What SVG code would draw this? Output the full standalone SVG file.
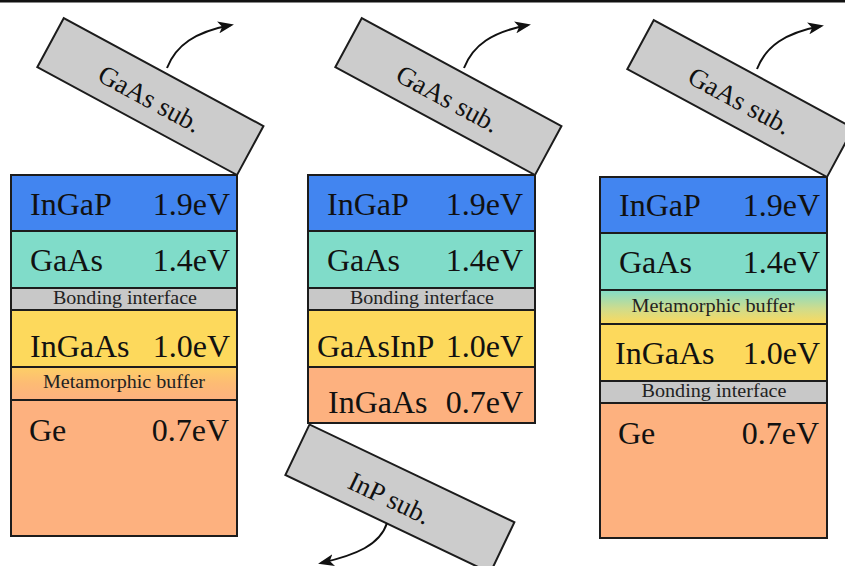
<svg xmlns="http://www.w3.org/2000/svg" width="845" height="566" viewBox="0 0 845 566">
  <defs>
    <style>
      .layer { stroke: #1c1c1c; stroke-width: 2; }
      .ingap { fill: #4285f0; }
      .gaas { fill: #80dcc9; }
      .bond { fill: #c8c8c8; }
      .yellow { fill: #fdd95c; }
      .orange { fill: #fdb17f; }
      .sub { fill: #cccccc; stroke: #1c1c1c; stroke-width: 2; }
      .big { font-family: "Liberation Serif", "Times New Roman", serif; font-size: 32px; fill: #111; }
      .small { font-family: "Liberation Serif", "Times New Roman", serif; font-size: 18.5px; fill: #222; text-anchor: middle; }
      .sublabel { font-family: "Liberation Serif", "Times New Roman", serif; font-size: 27px; fill: #111; text-anchor: middle; }
      .end { text-anchor: end; }
      .arrow { fill: none; stroke: #111; stroke-width: 2; marker-end: url(#head); }
    </style>
    <marker id="head" markerUnits="userSpaceOnUse" markerWidth="16" markerHeight="12" refX="13" refY="6" orient="auto">
      <path d="M0,0 L16,6 L0,12 L4,6 Z" fill="#111"/>
    </marker>
    <linearGradient id="metaOrange" x1="0" y1="0" x2="0" y2="1">
      <stop offset="0" stop-color="#fdcf66"/>
      <stop offset="0.5" stop-color="#fdbb74"/>
      <stop offset="1" stop-color="#fdb17f"/>
    </linearGradient>
    <linearGradient id="metaTeal" x1="0" y1="0" x2="0" y2="1">
      <stop offset="0" stop-color="#80dcc9"/>
      <stop offset="0.55" stop-color="#cfdc8c"/>
      <stop offset="1" stop-color="#fdd95c"/>
    </linearGradient>
  </defs>

  <rect x="0" y="0" width="845" height="2.5" fill="#111"/>

  <!-- substrates -->
  <g id="sub-left">
    <g transform="translate(237,175) rotate(28.4)">
      <rect class="sub" x="-227" y="-55.6" width="227" height="55.6"/>
      <text class="sublabel" x="-113" y="-16.5">GaAs sub.</text>
    </g>
  </g>
  <g id="sub-middle">
    <g transform="translate(535,175) rotate(28.4)">
      <rect class="sub" x="-227" y="-55.6" width="227" height="55.6"/>
      <text class="sublabel" x="-113" y="-16.5">GaAs sub.</text>
    </g>
  </g>
  <g id="sub-right">
    <g transform="translate(827,177) rotate(28.4)">
      <rect class="sub" x="-227" y="-55.6" width="227" height="55.6"/>
      <text class="sublabel" x="-113" y="-16.5">GaAs sub.</text>
    </g>
  </g>
  <g id="sub-inp">
    <g transform="translate(309.5,424.5) rotate(25.5)">
      <rect class="sub" x="0" y="0" width="227" height="56"/>
      <text class="sublabel" x="104" y="41">InP sub.</text>
    </g>
  </g>

  <!-- left stack: lattice-matched top cells on metamorphic Ge -->
  <g id="stack-left">
    <rect class="layer ingap" x="11" y="175" width="226" height="56"/>
    <rect class="layer gaas" x="11" y="231" width="226" height="57"/>
    <rect class="layer bond" x="11" y="288" width="226" height="22"/>
    <rect class="layer yellow" x="11" y="310" width="226" height="57"/>
    <rect class="layer" fill="url(#metaOrange)" x="11" y="367" width="226" height="33"/>
    <rect class="layer orange" x="11" y="400" width="226" height="136"/>
    <text class="big" x="30" y="215">InGaP</text>
    <text class="big end" x="230" y="215">1.9eV</text>
    <text class="big" x="30" y="271">GaAs</text>
    <text class="big end" x="230" y="271">1.4eV</text>
    <text class="small" x="125" y="304" textLength="144" lengthAdjust="spacingAndGlyphs">Bonding interface</text>
    <text class="big" x="30" y="357">InGaAs</text>
    <text class="big end" x="230" y="357">1.0eV</text>
    <text class="small" x="124" y="388" textLength="162" lengthAdjust="spacingAndGlyphs">Metamorphic buffer</text>
    <text class="big" x="29" y="441">Ge</text>
    <text class="big end" x="229" y="441">0.7eV</text>
  </g>

  <!-- middle stack: GaAs top pair bonded to InP-based bottom pair -->
  <g id="stack-middle">
    <rect class="layer ingap" x="308" y="175" width="227" height="56"/>
    <rect class="layer gaas" x="308" y="231" width="227" height="57"/>
    <rect class="layer bond" x="308" y="288" width="227" height="22"/>
    <rect class="layer yellow" x="308" y="310" width="227" height="57"/>
    <rect class="layer orange" x="308" y="367" width="227" height="56"/>
    <text class="big" x="327" y="215">InGaP</text>
    <text class="big end" x="523" y="215">1.9eV</text>
    <text class="big" x="327" y="271">GaAs</text>
    <text class="big end" x="523" y="271">1.4eV</text>
    <text class="small" x="422" y="304" textLength="144" lengthAdjust="spacingAndGlyphs">Bonding interface</text>
    <text class="big" x="317" y="357">GaAsInP</text>
    <text class="big end" x="523" y="357">1.0eV</text>
    <text class="big" x="328" y="413">InGaAs</text>
    <text class="big end" x="523" y="413">0.7eV</text>
  </g>

  <!-- right stack: inverted metamorphic top cells bonded to Ge -->
  <g id="stack-right">
    <rect class="layer ingap" x="600" y="177" width="227" height="56"/>
    <rect class="layer gaas" x="600" y="233" width="227" height="57"/>
    <rect class="layer" fill="url(#metaTeal)" x="600" y="290" width="227" height="34"/>
    <rect class="layer yellow" x="600" y="324" width="227" height="57"/>
    <rect class="layer bond" x="600" y="381" width="227" height="22"/>
    <rect class="layer orange" x="600" y="403" width="227" height="135"/>
    <text class="big" x="619" y="216">InGaP</text>
    <text class="big end" x="820" y="216">1.9eV</text>
    <text class="big" x="619" y="273">GaAs</text>
    <text class="big end" x="820" y="273">1.4eV</text>
    <text class="small" x="713" y="312" textLength="163" lengthAdjust="spacingAndGlyphs">Metamorphic buffer</text>
    <text class="big" x="615" y="364">InGaAs</text>
    <text class="big end" x="820" y="364">1.0eV</text>
    <text class="small" x="714" y="397" textLength="145" lengthAdjust="spacingAndGlyphs">Bonding interface</text>
    <text class="big" x="618" y="444">Ge</text>
    <text class="big end" x="819" y="444">0.7eV</text>
  </g>

  <!-- substrate removal arrows -->
  <g id="connectors">
    <path class="arrow" d="M167,68 C176,45 195,32 231,25"/>
    <path class="arrow" d="M464,68 C473,45 492,32 528,25"/>
    <path class="arrow" d="M757,69 C766,46 785,33 821,26"/>
    <path class="arrow" d="M387,523 C380,545 356,555 321,563"/>
  </g>
</svg>
